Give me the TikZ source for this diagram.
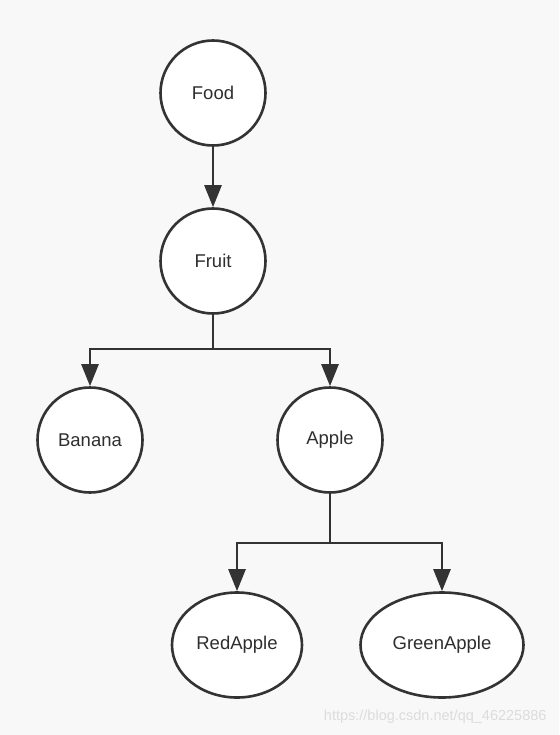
\documentclass[tikz,border=0pt]{standalone}
\usepackage{fontspec}
\setmainfont{Liberation Sans}
\usetikzlibrary{arrows.meta,shapes.geometric}
\definecolor{linegray}{HTML}{333333}
\definecolor{bggray}{HTML}{F8F8F8}
\definecolor{markgray}{HTML}{DCDCDC}
\begin{document}
\begin{tikzpicture}[x=1pt,y=-1pt,
  item/.style={circle,draw=linegray,fill=white,line width=2.6pt,minimum size=105pt,inner sep=0pt,font=\fontsize{18.5}{22}\selectfont,text=linegray!90!black},
  leaf/.style={ellipse,draw=linegray,fill=white,line width=2.6pt,inner sep=0pt,font=\fontsize{18.5}{22}\selectfont,text=linegray!90!black},
  arr/.style={draw=linegray,line width=2.6pt,-{Triangle[length=22pt,width=17pt]}}]
\fill[bggray] (0,0) rectangle (559,735);
\useasboundingbox (0,0) rectangle (559,735);
\node[item] (food) at (213,93) {Food};
\node[item] (fruit) at (213,261) {Fruit};
\node[item] (banana) at (90,440) {Banana};
\node[item] (apple) at (330,440) {Apple};
\node[leaf,minimum width=130pt,minimum height=105pt] (redapple) at (237,645) {RedApple};
\node[leaf,minimum width=163pt,minimum height=105pt] (greenapple) at (442,645) {GreenApple};
\draw[arr] (food) -- (fruit);
\draw[arr] (fruit.south) -- ++(0,34) -| (banana.north);
\draw[arr] (fruit.south) -- ++(0,34) -| (apple.north);
\draw[arr] (apple.south) -- ++(0,49) -| (redapple.north);
\draw[arr] (apple.south) -- ++(0,49) -| (greenapple.north);
\node[text=markgray,font=\fontsize{14.5}{16}\selectfont,anchor=east] (mark) at (550,717) {https://blog.csdn.net/qq\_46225886};
\end{tikzpicture}
\end{document}
